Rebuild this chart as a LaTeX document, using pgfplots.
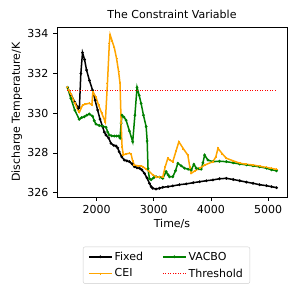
\documentclass[border=0pt]{standalone}
\usepackage{fontspec}
\setmainfont{DejaVu Sans}
\usepackage{pgfplots}
\pgfplotsset{compat=1.18}
\definecolor{mplorange}{HTML}{FFA500}
\definecolor{mplgreen}{HTML}{008000}
\begin{document}
\begin{tikzpicture}
\useasboundingbox (0,0) rectangle (298pt,293pt);
\begin{axis}[
  at={(57pt,96pt)}, anchor=south west,
  scale only axis, width=230pt, height=170pt,
  font=\fontsize{11}{13}\selectfont,
  xmin=1308, xmax=5330, ymin=325.78, ymax=334.34,
  xtick={2000,3000,4000,5000}, ytick={326,328,330,332,334},
  /pgf/number format/1000 sep={},
  /pgf/number format/assume math mode=true,
  tick align=outside, tick pos=left,
  major tick length=3.5pt,
  axis line style={line width=0.8pt},
  every tick/.style={line width=0.8pt, black},
  xticklabel style={inner sep=0pt, anchor=base, yshift=-13pt},
  yticklabel style={inner sep=0pt, anchor=east, xshift=-5pt},
  title={The Constraint Variable},
  every axis title shift=0pt,
  title style={at={(axis description cs:0.5,1)}, anchor=base, inner sep=0pt, yshift=8.5pt},
  xlabel={Time/s},
  xlabel style={at={(axis description cs:0.5,-0.18)}, anchor=base, inner sep=0pt},
  ylabel={Discharge Temperature/K},
  ylabel style={at={(axis description cs:-0.161,0.5)}, anchor=base, inner sep=0pt, rotate=0},
  legend columns=2,
  legend cell align=left,
  legend style={at={(0.476,-0.292)}, anchor=north, draw=black!20, rounded corners=2pt,
    font=\fontsize{11}{13}\selectfont, inner xsep=5pt, inner ysep=3pt,
    row sep=3pt,
    /tikz/every even column/.append style={column sep=17pt}},
  legend image code/.code={\draw[mark repeat=2, mark phase=2, #1] plot coordinates {(0pt,0pt) (11.5pt,0pt) (23pt,0pt)};},
]
\addplot[black, line width=1.5pt, mark=*, mark size=0.5pt] coordinates {
(1491,331.30) (1550,330.95) (1620,330.55) (1684,330.25) (1700,330.30) (1725,332.0) (1754,333.05)
(1790,332.70) (1825,332.17) (1875,331.65) (1930,331.16) (1975,330.65) (2018,330.16) (2060,329.70)
(2105,329.32) (2135,329.05) (2165,328.90) (2210,328.75) (2253,328.48) (2300,328.38) (2340,328.35)
(2370,328.25) (2395,328.06) (2440,327.80) (2486,327.64) (2530,327.60) (2574,327.56) (2620,327.45)
(2661,327.31) (2705,327.25) (2749,327.23) (2790,327.15) (2837,326.97) (2880,326.75) (2925,326.47)
(2955,326.30) (2982,326.22) (3040,326.18) (3100,326.22) (3158,326.27) (3250,326.30) (3333,326.34)
(3450,326.40) (3568,326.44) (3690,326.50) (3802,326.55) (3920,326.60) (4035,326.64) (4150,326.70)
(4270,326.72) (4390,326.66) (4504,326.60) (4620,326.53) (4737,326.47) (4850,326.40) (4972,326.35)
(5060,326.30) (5147,326.25)
};
\addlegendentry{Fixed}
\addplot[mplgreen, line width=1.5pt, mark=*, mark size=0.5pt] coordinates {
(1491,331.30) (1550,330.75) (1620,330.15) (1696,329.69) (1740,329.78) (1784,329.82) (1830,329.90)
(1872,329.96) (1930,329.85) (1960,329.62) (1989,329.45) (2047,329.38) (2105,329.35) (2165,329.29)
(2195,329.05) (2223,328.90) (2265,328.86) (2310,328.85) (2350,328.85) (2386,328.85) (2410,328.75)
(2430,329.50) (2446,329.90) (2480,329.80) (2516,329.65) (2575,329.10) (2632,328.56) (2670,329.90)
(2708,331.30) (2745,330.90) (2779,330.49) (2820,329.90) (2867,329.32) (2885,328.60) (2900,327.20)
(2925,326.70) (2954,326.65) (3000,326.75) (3042,326.80) (3100,326.78) (3158,326.72) (3217,327.06)
(3250,326.90) (3275,326.80) (3333,326.80) (3380,327.10) (3421,327.48) (3480,327.35) (3538,327.23)
(3600,327.18) (3656,327.14) (3702,327.43) (3743,327.23) (3790,327.20) (3830,327.18) (3860,327.50)
(3889,327.89) (3947,327.64) (4035,327.56) (4150,327.58) (4270,327.56) (4390,327.50) (4504,327.44)
(4620,327.40) (4737,327.35) (4850,327.30) (4972,327.23) (5060,327.15) (5147,327.10)
};
\addlegendentry{VACBO}
\addplot[mplorange, line width=1.5pt, mark=+, mark size=1pt] coordinates {
(1491,331.30) (1550,330.95) (1620,330.50) (1684,330.10) (1700,330.05) (1730,330.25) (1754,330.40)
(1800,330.45) (1872,330.50) (1918,330.42) (1935,331.08) (1990,330.80) (2035,330.40) (2090,330.00)
(2153,329.55) (2190,331.50) (2223,333.50) (2237,333.95) (2270,333.65) (2310,333.30) (2350,332.75)
(2385,332.10) (2410,331.50) (2430,329.50) (2446,328.30) (2468,327.90) (2520,327.95) (2574,327.98)
(2603,327.95) (2630,327.60) (2661,327.39) (2720,327.35) (2770,327.35) (2807,327.31) (2860,327.20)
(2925,327.06) (2980,326.90) (3042,326.80) (3100,326.78) (3158,326.80) (3200,327.30) (3246,327.73)
(3290,327.62) (3333,327.56) (3390,328.10) (3439,328.56) (3520,328.20) (3596,327.89) (3630,327.30)
(3656,326.97) (3720,327.10) (3802,327.23) (3900,327.40) (4035,327.56) (4085,327.80) (4123,328.23)
(4200,327.95) (4270,327.73) (4390,327.60) (4504,327.48) (4620,327.43) (4737,327.39) (4850,327.33)
(4972,327.27) (5060,327.22) (5147,327.17)
};
\addlegendentry{CEI}
\addplot[red, line width=1pt, dash pattern=on 1pt off 1.5pt] coordinates {(1491,331.15) (5147,331.15)};
\addlegendentry{Threshold}
\end{axis}
\end{tikzpicture}
\end{document}
